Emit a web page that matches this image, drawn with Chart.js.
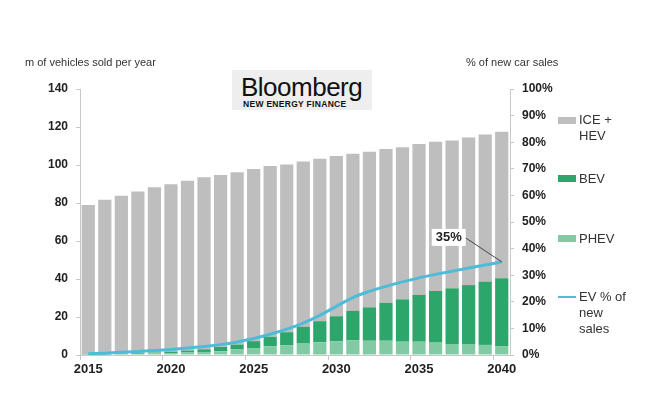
<!DOCTYPE html>
<html>
<head>
<meta charset="utf-8">
<script src="https://cdn.jsdelivr.net/npm/chart.js@4"></script>
<style>
  body { margin: 0; background: #fff; font-family: "Liberation Sans", Arial, sans-serif; }
  #wrap { position: relative; width: 650px; height: 405px; }
  .t { position: absolute; color: #333; font-size: 11px; white-space: nowrap; }
  #logo { position: absolute; left: 232px; top: 70px; width: 140px; height: 40px; background: #eeeeee; }
  #logo .big { position: absolute; left: 9px; top: 2px; font-size: 26px; color: #111; letter-spacing: -0.5px; }
  #logo .small { position: absolute; left: 11px; top: 29px; font-size: 8.5px; font-weight: bold; color: #111; letter-spacing: 0.3px; white-space: nowrap; }
  .lg { position: absolute; left: 558px; font-size: 13px; color: #333; line-height: 16px; }
  .sw { position: absolute; left: 558px; width: 18px; height: 7px; }
</style>
</head>
<body>
<div id="wrap">
  <canvas id="myChart" width="650" height="405"></canvas>
  <div class="t" style="left:25px; top:56px;">m of vehicles sold per year</div>
  <div class="t" style="left:466px; top:56px;">% of new car sales</div>
  <div id="logo"><span class="big">Bloomberg</span><span class="small">NEW ENERGY FINANCE</span></div>

  <div class="sw" style="top:117px; background:rgb(190,190,190);"></div>
  <div class="lg" style="left:579px; top:112px;">ICE +<br>HEV</div>
  <div class="sw" style="top:175px; background:rgb(44,166,106);"></div>
  <div class="lg" style="left:579px; top:171px;">BEV</div>
  <div class="sw" style="top:235px; background:rgb(130,202,163);"></div>
  <div class="lg" style="left:579px; top:231px;">PHEV</div>
  <div class="sw" style="top:296px; height:2px; background:rgb(78,188,216);"></div>
  <div class="lg" style="left:579px; top:289px;">EV % of<br>new<br>sales</div>
</div>
<script>
const years = ['2015','2016','2017','2018','2019','2020','2021','2022','2023','2024','2025','2026','2027',
               '2028','2029','2030','2031','2032','2033','2034','2035','2036','2037','2038','2039','2040'];

// m vehicles per year
const phev = [0.2, 0.3, 0.4, 0.6, 0.8, 1.0, 1.3, 1.6, 2.0, 2.9, 3.4, 4.6, 5.2, 6.0, 6.7, 7.3, 7.8, 7.5, 7.5, 7.0, 7.0, 6.5, 5.8, 5.8, 5.3, 4.7];
const bev = [0.1, 0.2, 0.3, 0.4, 0.5, 0.8, 1.0, 1.4, 2.3, 2.6, 3.9, 5.0, 6.8, 8.8, 11.1, 13.1, 15.4, 17.6, 20.0, 22.3, 24.6, 27.2, 29.3, 31.0, 33.3, 35.7];
const ice = [78.7, 81.2, 83.1, 85.0, 87.0, 88.1, 89.4, 90.6, 90.5, 90.7, 90.6, 89.9, 88.3, 87.1, 85.5, 84.3, 82.7, 81.9, 80.9, 80.1, 79.4, 78.5, 77.8, 77.7, 77.5, 77.1];

// % of new car sales
const evShare = [0.5, 0.7, 1.0, 1.3, 1.7, 2.1, 2.6, 3.2, 3.9, 4.9, 6.2, 7.8, 9.7, 12.0, 14.9, 18.3, 21.6, 23.9, 25.8, 27.5, 29.0, 30.3, 31.5, 32.7, 33.8, 35];

const leftTicks = [0, 20, 40, 60, 80, 100, 120, 140];
const rightTicks = [0, 10, 20, 30, 40, 50, 60, 70, 80, 90, 100];

const tickFont = { family: 'Liberation Sans', size: 12, weight: 'bold' };
const axisGray = 'rgb(200,200,200)';

// draws the "35%" callout next to the last point of the line
const calloutPlugin = {
    id: 'callout',
    afterDatasetsDraw(chart) {
        const meta = chart.getDatasetMeta(3);
        const last = meta.data[meta.data.length - 1];
        if (!last) return;
        const ctx = chart.ctx;
        const bx = last.x - 68, by = last.y - 26;
        ctx.save();
        ctx.strokeStyle = '#444';
        ctx.lineWidth = 1;
        ctx.beginPath();
        ctx.moveTo(last.x, last.y);
        ctx.lineTo(bx + 32, by + 2);
        ctx.stroke();
        ctx.fillStyle = '#fff';
        ctx.fillRect(bx - 2, by - 7, 34, 17);
        ctx.fillStyle = '#222';
        ctx.font = 'bold 13px "Liberation Sans"';
        ctx.textAlign = 'center';
        ctx.textBaseline = 'middle';
        ctx.fillText(Math.round(evShare[evShare.length - 1]) + '%', bx + 15, by + 2);
        ctx.restore();
    }
};

const data = {
    labels: years,
    datasets: [
        { label: 'PHEV', data: phev, backgroundColor: 'rgb(130,202,163)', yAxisID: 'y', order: 1 },
        { label: 'BEV', data: bev, backgroundColor: 'rgb(44,166,106)', yAxisID: 'y', order: 1 },
        { label: 'ICE + HEV', data: ice, backgroundColor: 'rgb(190,190,190)', yAxisID: 'y', order: 1 },
        {
            label: 'EV % of new sales', type: 'line', data: evShare, yAxisID: 'y1', order: 0,
            borderColor: 'rgb(78,188,216)', borderWidth: 3, pointRadius: 0,
            cubicInterpolationMode: 'monotone'
        }
    ]
};

const config = {
    type: 'bar',
    data: data,
    options: {
        responsive: false,
        animation: false,
        barPercentage: 0.8,
        categoryPercentage: 1,
        layout: { padding: { top: 89, right: 90, bottom: 25, left: 0 } },
        plugins: { legend: { display: false }, tooltip: { enabled: false } },
        scales: {
            x: {
                stacked: true,
                afterFit: s => { s.height = 25; },
                border: { color: axisGray },
                grid: {
                    drawOnChartArea: false, offset: true, tickLength: 5,
                    tickColor: c => (c.index % 5 === 0 ? axisGray : 'rgba(0,0,0,0)')
                },
                ticks: {
                    autoSkip: false, maxRotation: 0, padding: 2,
                    color: '#222', font: { ...tickFont, size: 13 },
                    callback: (v, i) => (i % 5 === 0 ? years[i] : '')
                }
            },
            y: {
                stacked: true, position: 'left', min: 0, max: 140,
                afterFit: s => { s.width = 80; },
                afterBuildTicks: s => { s.ticks = leftTicks.map(v => ({ value: v })); },
                border: { color: axisGray },
                grid: { drawOnChartArea: false, tickLength: 4, color: axisGray },
                ticks: { padding: 8, color: '#222', font: tickFont }
            },
            y1: {
                position: 'right', min: 0, max: 100,
                afterFit: s => { s.width = 50; },
                afterBuildTicks: s => { s.ticks = rightTicks.map(v => ({ value: v })); },
                border: { color: axisGray },
                grid: { drawOnChartArea: false, tickLength: 4, color: axisGray },
                ticks: { padding: 8, color: '#222', font: tickFont, callback: v => v + '%' }
            }
        }
    },
    plugins: [calloutPlugin]
};

const myChart = new Chart(document.getElementById('myChart'), config);
</script>
</body>
</html>
